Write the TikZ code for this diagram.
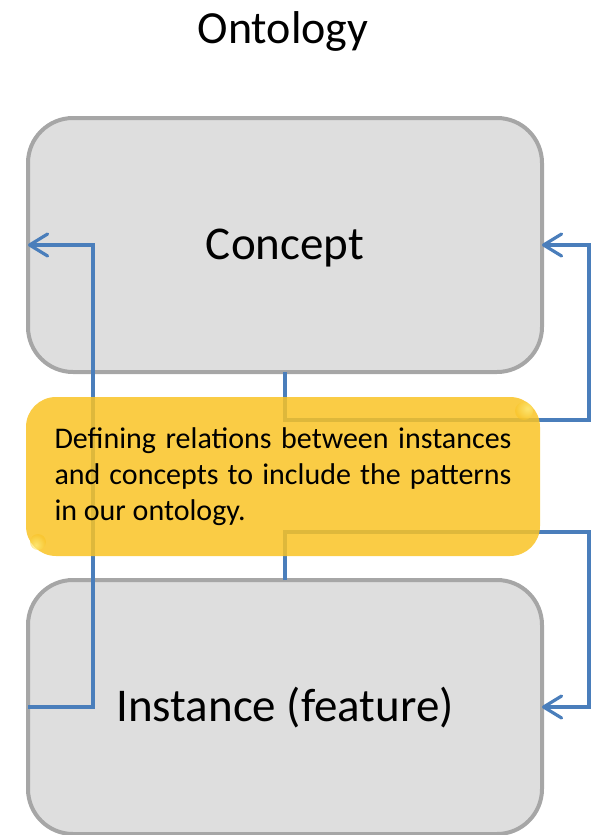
\documentclass[tikz,border=0pt]{standalone}
\usepackage{fontspec}
\setmainfont{Carlito}
\usetikzlibrary{arrows.meta}
\definecolor{boxgray}{HTML}{DEDEDE}
\definecolor{boxline}{HTML}{A6A6A6}
\definecolor{linkblue}{HTML}{4A7EBB}
\definecolor{noteyellow}{RGB}{249,195,37}
\definecolor{noteshine}{RGB}{255,245,140}
\tikzset{
	termbox/.style={draw=boxline,fill=boxgray,line width=4pt,rounded corners=45pt,
		minimum width=514pt,minimum height=254pt,outer sep=0pt,
		text height=34pt,text depth=6pt,
		font=\fontsize{47}{56}\selectfont},
	link/.style={draw=linkblue,line width=3.2pt,
		-{Straight Barb[length=18pt,width=22pt,round]}},
	notebox/.style={fill=noteyellow,fill opacity=0.85,rounded corners=30pt,
		minimum width=514pt,minimum height=159pt,outer sep=0pt},
	shine/.style={inner color=noteshine,outer color=noteyellow,opacity=0.6},
	notetext/.style={text width=457pt,align=justify,inner sep=0pt,
		font=\fontsize{30}{36}\selectfont}
}
\begin{document}
\begin{tikzpicture}[x=1pt,y=-1pt]
	\useasboundingbox (0,0) rectangle (594,835);
	\node[anchor=base,font=\fontsize{46}{54}\selectfont] (title) at (283,43) {Ontology};
	\node[termbox] (concept) at (285,245) {Concept};
	\node[termbox] (instance) at (285,707) {Instance (feature)};
	% relations
	\draw[link] (instance.west) -- ++(65,0) |- (concept.west);
	\draw[link] (concept.south) -- ++(0,48) -- ++(304,0) |- (concept.east);
	\draw[link] (instance.north) -- ++(0,-48) -- ++(304,0) |- (instance.east);
	% note on top
	\node[notebox] (note) at (283,476.5) {};
	\shade[shine] (note.north east) ++(-16,14) circle (9);
	\shade[shine] (note.south west) ++(12,-14) circle (8);
	\node[notetext] (notetxt) at (note.center) {Defining relations between instances\linebreak and concepts to include the patterns\linebreak in our ontology.};
\end{tikzpicture}
\end{document}
